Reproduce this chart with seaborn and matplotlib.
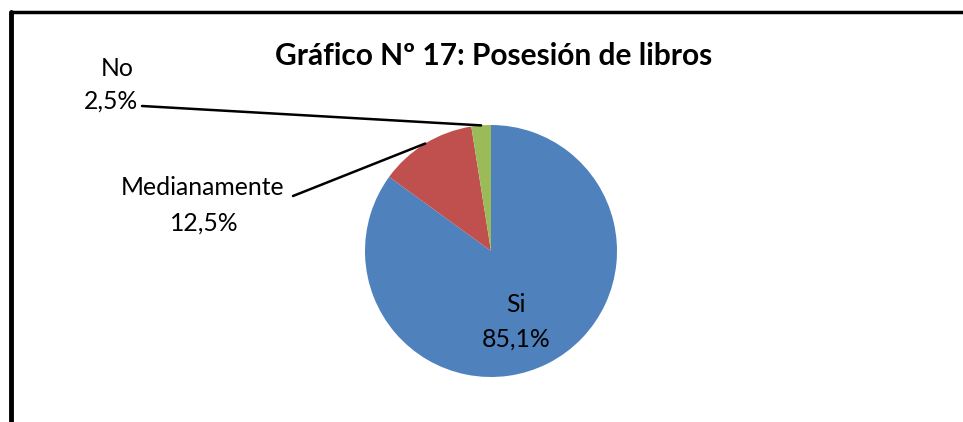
import numpy as np
import seaborn as sns
import matplotlib.pyplot as plt
from matplotlib.lines import Line2D

sns.set_theme(style="white")
plt.rcParams['font.family'] = ['Lato', 'DejaVu Sans']
plt.rcParams['text.color'] = 'black'

# data
categorias = ['Si', 'Medianamente', 'No']
porcentajes = [85.1, 12.5, 2.5]
etiquetas_pct = ['85,1%', '12,5%', '2,5%']
colores = ['#4F81BD', '#C0504D', '#9BBB59']
titulo = 'Gráfico Nº 17: Posesión de libros'

W, H = 963, 422
fig = plt.figure(figsize=(W / 100, H / 100), dpi=100)

# pie axes: centre (491, 251) px from top, radius 126 px
cx, cy, r = 491, 251, 126
ax = fig.add_axes([(cx - r) / W, (H - cy - r) / H, 2 * r / W, 2 * r / H])
wedges, _ = ax.pie(porcentajes, colors=colores, startangle=90, counterclock=False,
                   wedgeprops=dict(linewidth=0))
ax.set_xlim(-1, 1)
ax.set_ylim(-1, 1)
ax.set_aspect('equal')
ax.axis('off')

def fpx(x, y):
    # figure pixels from top-left
    return (x, H - y)

FS = 17.8

# inside label for Si
fig.text(516 / W, 1 - 305 / H, categorias[0], ha='center', va='center', fontsize=FS)
fig.text(516 / W, 1 - 339 / H, etiquetas_pct[0], ha='center', va='center', fontsize=FS)

# outside labels with leader lines
ext = {1: dict(t1=(203, 188), t2=(204, 223), start=(293, 196)),
       2: dict(t1=(117, 68), t2=(111, 101), start=(142, 106))}
for i, p in ext.items():
    w = wedges[i]
    ang = np.deg2rad((w.theta1 + w.theta2) / 2)
    ax.annotate('', xy=(np.cos(ang), np.sin(ang)), xycoords='data',
                xytext=fpx(*p['start']), textcoords='figure pixels',
                arrowprops=dict(arrowstyle='-', color='black', lw=1.8,
                                shrinkA=0, shrinkB=0))
    fig.text(p['t1'][0] / W, 1 - p['t1'][1] / H, categorias[i], ha='center', va='center', fontsize=FS)
    fig.text(p['t2'][0] / W, 1 - p['t2'][1] / H, etiquetas_pct[i], ha='center', va='center', fontsize=FS)

fig.text(494 / W, 1 - 56 / H, titulo, ha='center', va='center', fontsize=21.5, fontweight='bold')

# chart border (left and top edges visible)
fig.add_artist(Line2D([11 / W, 11 / W], [0, 1 - 12 / H], color='black', lw=3.5))
fig.add_artist(Line2D([11 / W, 1], [1 - 12 / H, 1 - 12 / H], color='black', lw=2.5))

fig.savefig('out.png', dpi=100)
